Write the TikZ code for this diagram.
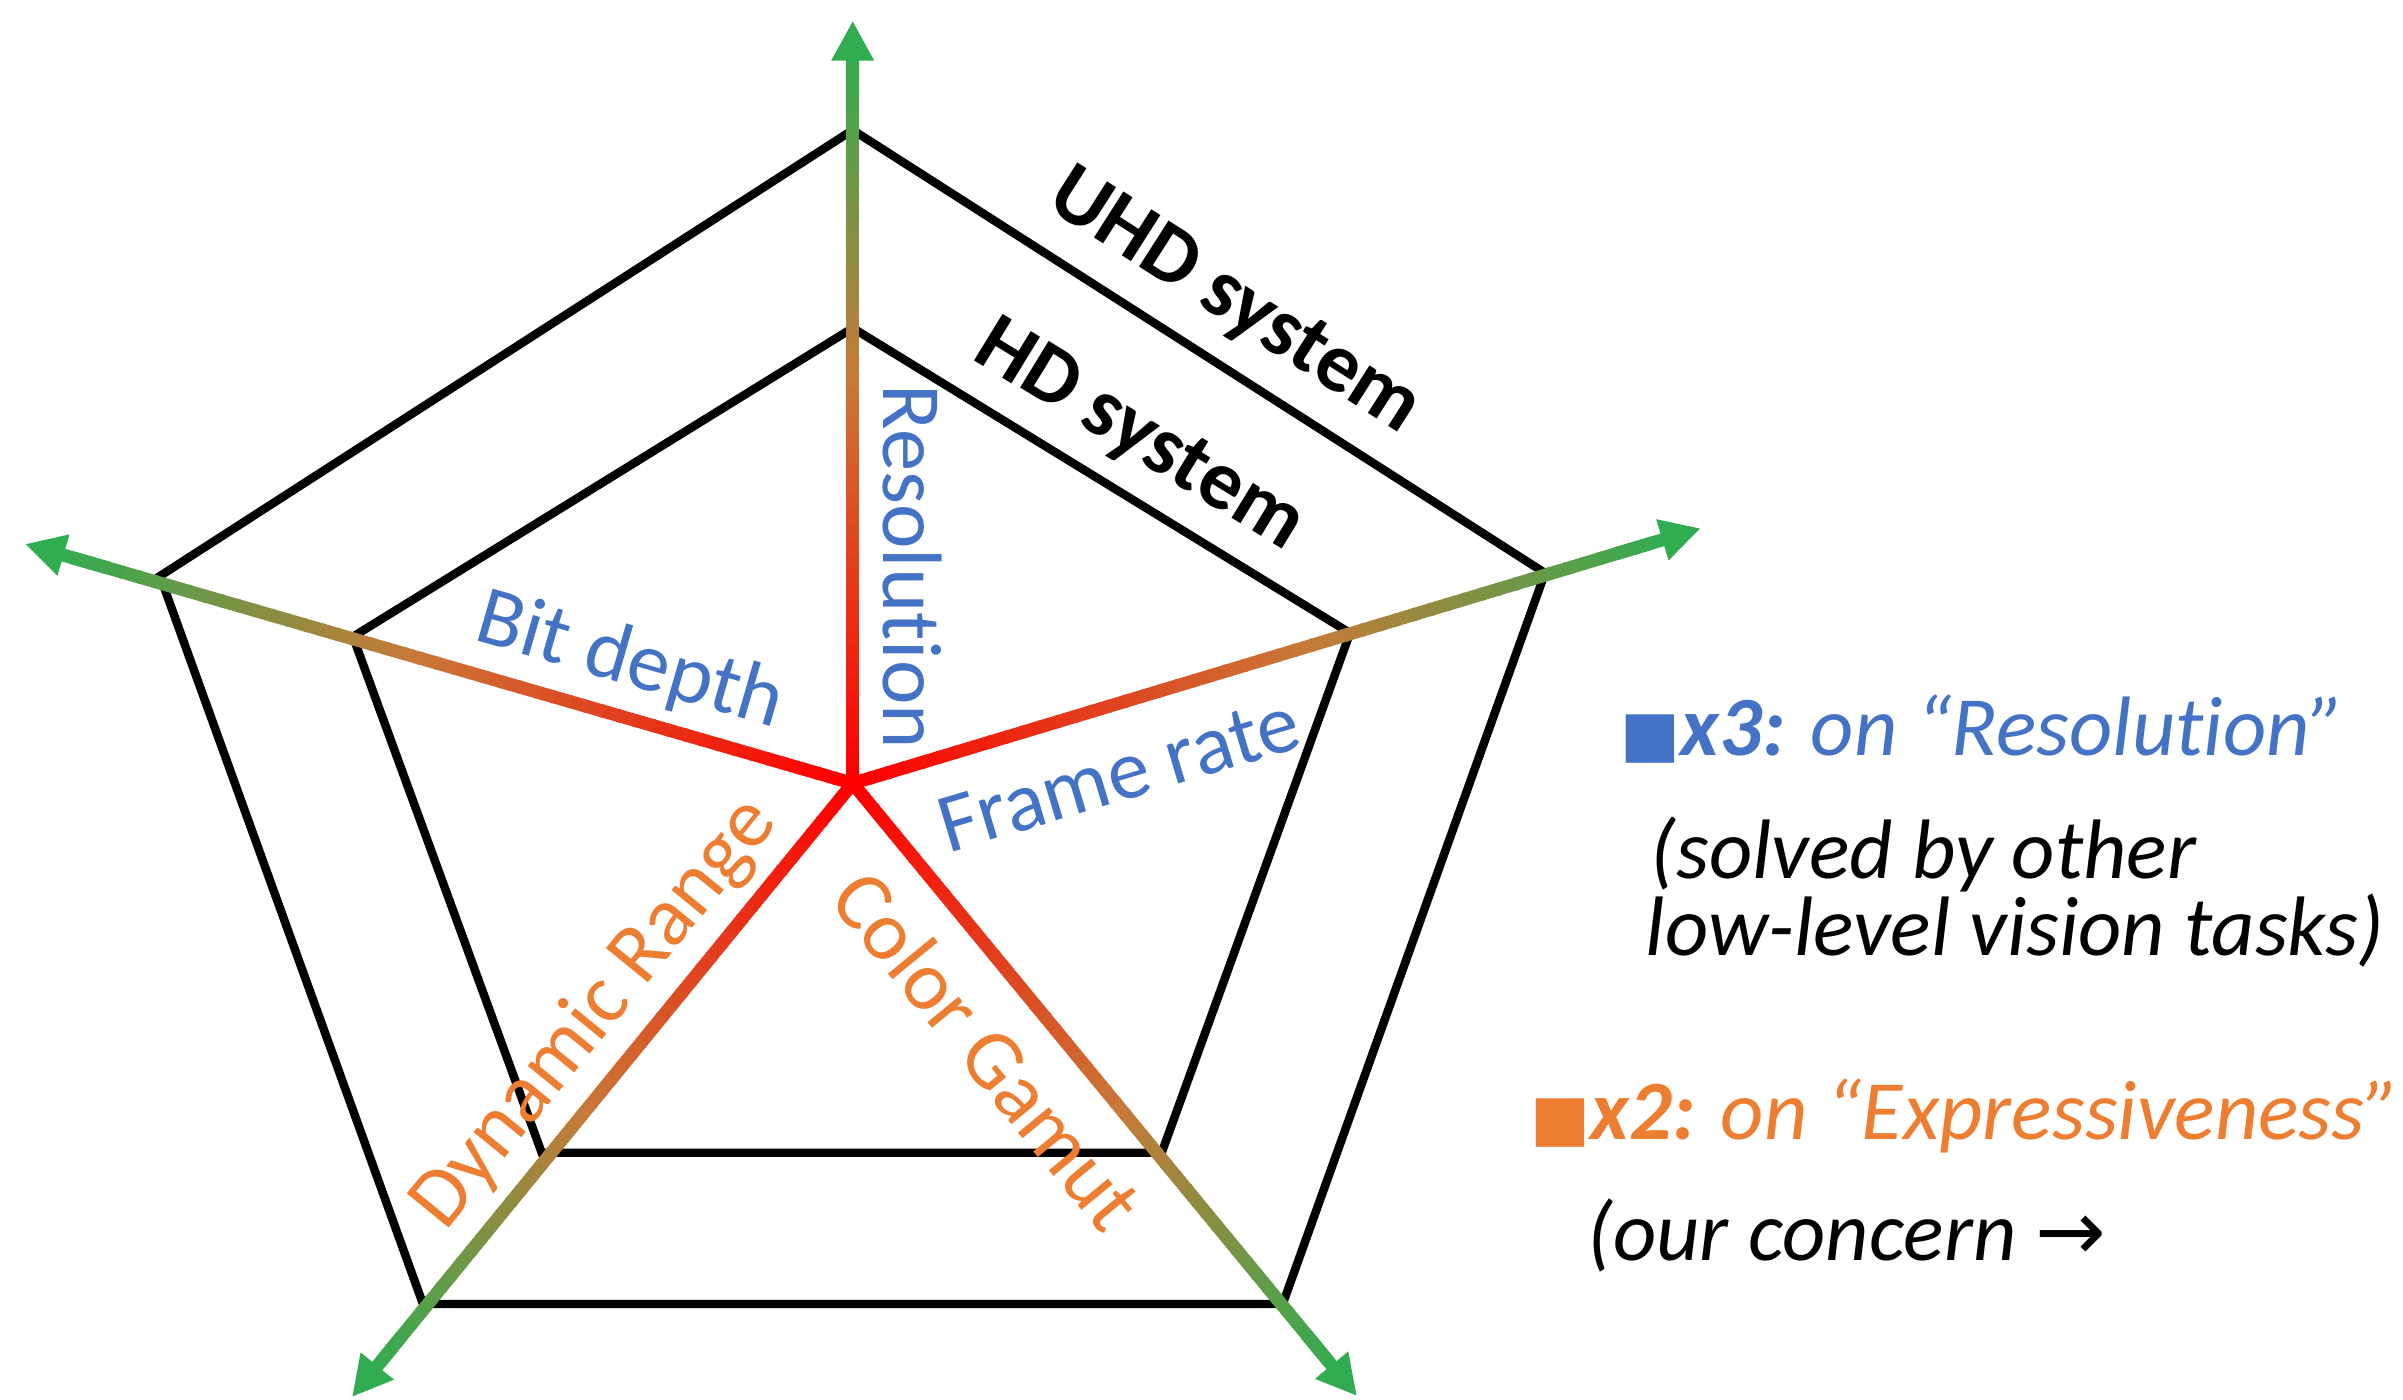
\documentclass[tikz,border=0pt]{standalone}
\usepackage{fontspec}
\setmainfont{Carlito}[Ligatures=TeX]
\newfontfamily\symfont{DejaVu Sans}
\usetikzlibrary{arrows.meta,calc}

\definecolor{axblue}{HTML}{4472C4}
\definecolor{axorange}{HTML}{ED7D31}
\definecolor{axred}{HTML}{FF0000}
\definecolor{axmid}{RGB}{200,120,56}
\definecolor{axgreen}{RGB}{50,172,80}

\begin{document}
\begin{tikzpicture}[
  x=0.01cm, y=-0.01cm,
  edge/.style={draw=black,line width=2.4pt,line join=miter},
  axis/.style={line width=3.7pt},
  axtip/.style={-{Triangle[length=4mm,width=4mm]}},
  lab/.style={inner sep=0,font=\fontsize{24}{28}\selectfont},
  sys/.style={inner sep=0,font=\fontsize{24}{28}\selectfont\bfseries},
  note/.style={inner sep=0,anchor=base west,font=\fontsize{24}{28}\selectfont\itshape}
]
  \useasboundingbox (0,0) rectangle (2403,1399);

  % centre and axis ends
  \coordinate (o) at (852.7,783.3);
  \coordinate (tT) at (852.7,20.7);
  \coordinate (tL) at (25,544);
  \coordinate (tR) at (1700.7,528.3);
  \coordinate (tBL) at (352,1397);
  \coordinate (tBR) at (1357,1396);

  % UHD pentagon
  \coordinate (uT) at (852.7,130);
  \coordinate (uR) at (1545,573);
  \coordinate (uBR) at (1282.7,1304);
  \coordinate (uBL) at (423,1304);
  \coordinate (uL) at (160,576);
  % HD pentagon
  \coordinate (hT) at (852.7,328);
  \coordinate (hR) at (1350,633);
  \coordinate (hBR) at (1161.7,1152.7);
  \coordinate (hBL) at (541.7,1152.7);
  \coordinate (hL) at (353,636.7);

  \draw[edge] (uT) -- (uR) -- (uBR) -- (uBL) -- (uL) -- cycle;
  \draw[edge] (hT) -- (hR) -- (hBR) -- (hBL) -- (hL) -- cycle;

  % axes, red to green
  \foreach \ax in {tT,tL,tR,tBL,tBR}{
    \draw[axis,axtip,axgreen] ($(o)!0.9!(\ax)$) -- (\ax);
    \foreach \i in {0,...,46}{
      \pgfmathsetmacro\ta{\i==0 ? -0.008 : \i/50}
      \pgfmathsetmacro\tb{(\i+1.2)/50}
      \ifnum\i<26
        \pgfmathtruncatemacro\pc{\i/26*100}
        \colorlet{segc}{axmid!\pc!axred}
      \else
        \pgfmathtruncatemacro\pc{(\i-26)/21*100}
        \colorlet{segc}{axgreen!\pc!axmid}
      \fi
      \draw[axis,segc] ($(o)!\ta!(\ax)$) -- ($(o)!\tb!(\ax)$);
    }
  }

  % axis labels
  \node[lab,text=axblue,rotate=-90] (res) at (912,567) {Resolut\kern0pt ion};
  \node[lab,text=axblue,rotate=-16.1] (bit) at (630,662) {Bit depth};
  \node[lab,text=axblue,rotate=16.7] (fps) at (1119,774) {Frame rate};
  \node[lab,text=axorange,rotate=50.8] (dr) at (595,1014) {Dynamic Range};
  \node[lab,text=axorange,rotate=-50.6] (cg) at (988,1050) {Color Gamut};
  \node[sys,rotate=-32.6] (uhd) at (1234,303) {UHD system};
  \node[sys,rotate=-31.5] (hd) at (1139,437) {HD system};

  % notes on the right
  \node[note,text=axblue] (n1) at (1620,755)
    {{\symfont\fontsize{18}{20}\selectfont ■}\textbf{x3:} on “Resolut\kern0pt ion”};
  \node[note] (n2) at (1650,878) {(solved by other};
  \node[note] (n3) at (1645,955) {low-level vision tasks)};
  \node[note,text=axorange] (n4) at (1530,1139)
    {{\symfont\fontsize{18}{20}\selectfont ■}\textbf{x2:} on “Expressiveness”};
  \node[note] (n5) at (1587,1260) {(our concern {\symfont\upshape →}};
\end{tikzpicture}
\end{document}
